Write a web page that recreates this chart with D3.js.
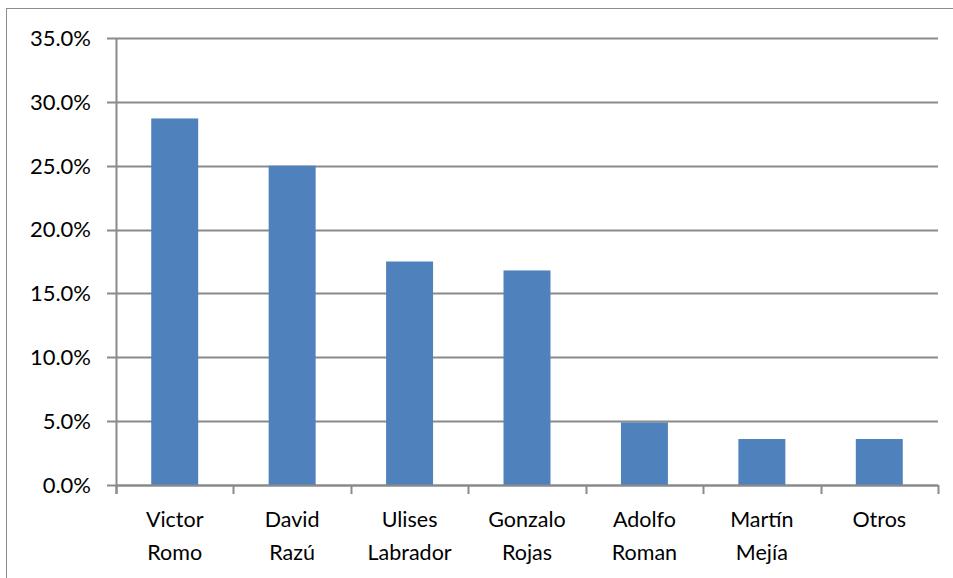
<!DOCTYPE html>
<html>
<head>
<meta charset="utf-8">
<script src="https://cdn.jsdelivr.net/npm/d3@7"></script>
<style>
  body { margin: 0; background: #fff; }
  svg { display: block; font-family: Lato, "Open Sans", sans-serif; }
</style>
</head>
<body>
<div id="chart"></div>
<script>
// chart data
const candidates = [
  ["Victor", "Romo"],
  ["David", "Razú"],
  ["Ulises", "Labrador"],
  ["Gonzalo", "Rojas"],
  ["Adolfo", "Roman"],
  ["Martín", "Mejía"],
  ["Otros"]
];
const shares = [0.287, 0.250, 0.175, 0.168, 0.049, 0.036, 0.036];
const yTicks = [0, 0.05, 0.10, 0.15, 0.20, 0.25, 0.30, 0.35];

const width = 953, height = 578;
const margin = { top: 38, right: 15, bottom: 93, left: 116 };

const svg = d3.select("#chart").append("svg")
  .attr("width", width)
  .attr("height", height);

// outer frame of the chart
svg.append("rect")
  .attr("x", 6.5).attr("y", 8.5)
  .attr("width", width).attr("height", height)
  .attr("fill", "none")
  .attr("stroke", "#8c8c8c")
  .attr("stroke-width", 1);

const x = d3.scaleBand()
  .domain(d3.range(candidates.length))
  .range([margin.left, width - margin.right])
  .padding(0);

const y = d3.scaleLinear()
  .domain([0, 0.35])
  .range([height - margin.bottom, margin.top]);

const gridColor = "#8a8a8a";

// horizontal gridlines
svg.append("g")
  .selectAll("line")
  .data(yTicks)
  .join("line")
  .attr("x1", margin.left - 9)
  .attr("x2", width - margin.right)
  .attr("y1", (d) => Math.round(y(d)) + 0.5)
  .attr("y2", (d) => Math.round(y(d)) + 0.5)
  .attr("stroke", gridColor)
  .attr("stroke-width", 2);

// y tick labels
svg.append("g")
  .selectAll("text")
  .data(yTicks)
  .join("text")
  .attr("x", 91)
  .attr("y", (d) => y(d))
  .attr("dy", "0.36em")
  .attr("text-anchor", "end")
  .attr("font-size", 22)
  .attr("fill", "#000")
  .text((d) => d3.format(".1%")(d));

// bars
const barW = x.bandwidth() * 0.4;
svg.append("g")
  .selectAll("rect")
  .data(shares)
  .join("rect")
  .attr("x", (d, i) => x(i) + (x.bandwidth() - barW) / 2)
  .attr("y", (d) => y(d))
  .attr("width", barW)
  .attr("height", (d) => y(0) - y(d))
  .attr("fill", "#4f81bd");

// y axis line
svg.append("line")
  .attr("x1", margin.left + 0.5).attr("x2", margin.left + 0.5)
  .attr("y1", y(0.35)).attr("y2", y(0) + 9)
  .attr("stroke", gridColor)
  .attr("stroke-width", 2);

// x axis line and category ticks
svg.append("line")
  .attr("x1", margin.left).attr("x2", width - margin.right)
  .attr("y1", Math.round(y(0)) + 0.5).attr("y2", Math.round(y(0)) + 0.5)
  .attr("stroke", gridColor)
  .attr("stroke-width", 2);

const bounds = d3.range(candidates.length + 1).map((i) => margin.left + i * x.step());
svg.append("g")
  .selectAll("line")
  .data(bounds)
  .join("line")
  .attr("x1", (d) => Math.round(d) + 0.5)
  .attr("x2", (d) => Math.round(d) + 0.5)
  .attr("y1", y(0))
  .attr("y2", y(0) + 9)
  .attr("stroke", gridColor)
  .attr("stroke-width", 2);

// category labels, two lines each
const labels = svg.append("g")
  .selectAll("text")
  .data(candidates)
  .join("text")
  .attr("x", (d, i) => x(i) + x.bandwidth() / 2)
  .attr("y", 527)
  .attr("text-anchor", "middle")
  .attr("font-size", 21.5)
  .attr("fill", "#000");

labels.selectAll("tspan")
  .data((d) => d)
  .join("tspan")
  .attr("x", function () { return d3.select(this.parentNode).attr("x"); })
  .attr("dy", (d, i) => (i === 0 ? 0 : 33))
  .text((d) => d);
</script>
</body>
</html>
